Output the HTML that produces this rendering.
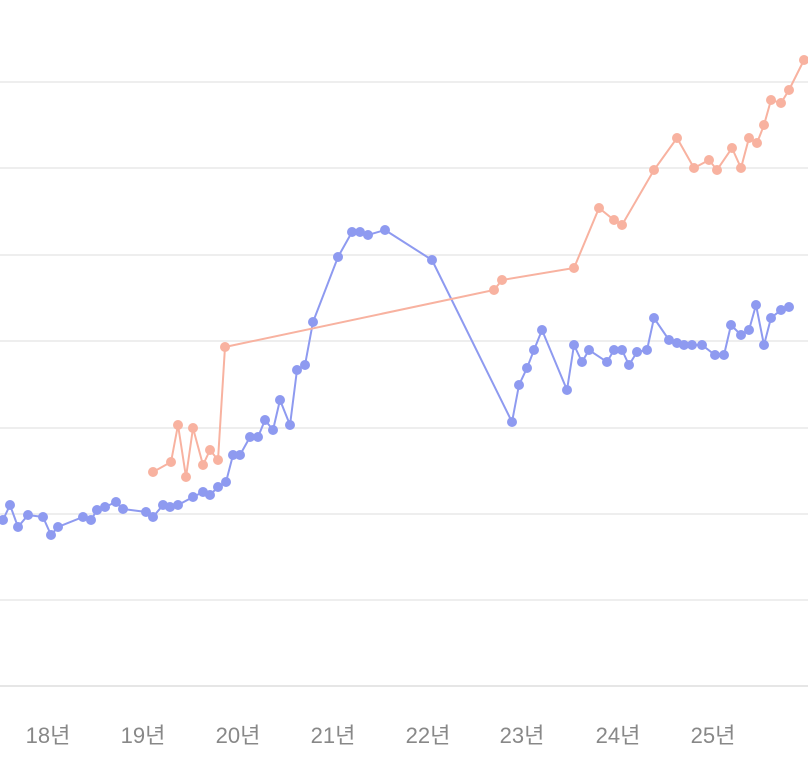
<!DOCTYPE html>
<html><head><meta charset="utf-8"><style>
html,body{margin:0;padding:0;background:#fff;}
svg{display:block;}
text{font-family:"Liberation Sans","Noto Sans CJK KR",sans-serif;font-size:22px;fill:#888;}
</style></head><body>
<svg width="808" height="775" viewBox="0 0 808 775">
<g stroke="#eeeeee" stroke-width="2">
<line x1="0" y1="82" x2="808" y2="82"/><line x1="0" y1="168" x2="808" y2="168"/>
<line x1="0" y1="255" x2="808" y2="255"/><line x1="0" y1="341" x2="808" y2="341"/>
<line x1="0" y1="428" x2="808" y2="428"/><line x1="0" y1="514" x2="808" y2="514"/>
<line x1="0" y1="600" x2="808" y2="600"/><line x1="0" y1="686" x2="808" y2="686" stroke="#e6e6e6"/>
</g>
<g text-anchor="middle">
<text x="48" y="743">18년</text><text x="143" y="743">19년</text><text x="238" y="743">20년</text>
<text x="333" y="743">21년</text><text x="428" y="743">22년</text><text x="522" y="743">23년</text>
<text x="618" y="743">24년</text><text x="713" y="743">25년</text>
</g>
<g id="c"></g>
</svg>
<script>
var B=[[3,520],[10,505],[18,527],[28,515],[43,517],[51,535],[58,527],[83,517],[91,520],[97,510],[105,507],[116,502],[123,509],[146,512],[153,517],[163,505],[170,507],[178,505],[193,497],[203,492],[210,495],[218,487],[226,482],[233,455],[240,455],[250,437],[258,437],[265,420],[273,430],[280,400],[290,425],[297,370],[305,365],[313,322],[338,257],[352,232],[360,232],[368,235],[385,230],[432,260],[512,422],[519,385],[527,368],[534,350],[542,330],[567,390],[574,345],[582,362],[589,350],[607,362],[614,350],[622,350],[629,365],[637,352],[647,350],[654,318],[669,340],[677,343],[684,345],[692,345],[702,345],[715,355],[724,355],[731,325],[741,335],[749,330],[756,305],[764,345],[771,318],[781,310],[789,307]];
var O=[[153,472],[171,462],[178,425],[186,477],[193,428],[203,465],[210,450],[218,460],[225,347],[494,290],[502,280],[574,268],[599,208],[614,220],[622,225],[654,170],[677,138],[694,168],[709,160],[717,170],[732,148],[741,168],[749,138],[757,143],[764,125],[771,100],[781,103],[789,90],[804,60]];
var g=document.getElementById('c'),ns='http://www.w3.org/2000/svg';
function draw(P,col){var pl=document.createElementNS(ns,'polyline');pl.setAttribute('points',P.map(p=>p.join(',')).join(' '));pl.setAttribute('fill','none');pl.setAttribute('stroke',col);pl.setAttribute('stroke-width','2');g.appendChild(pl);
P.forEach(p=>{var c=document.createElementNS(ns,'circle');c.setAttribute('cx',p[0]);c.setAttribute('cy',p[1]);c.setAttribute('r','5');c.setAttribute('fill',col);g.appendChild(c);});}
draw(B,'#8e9af0');draw(O,'#f8b2a0');
</script>
</body></html>
